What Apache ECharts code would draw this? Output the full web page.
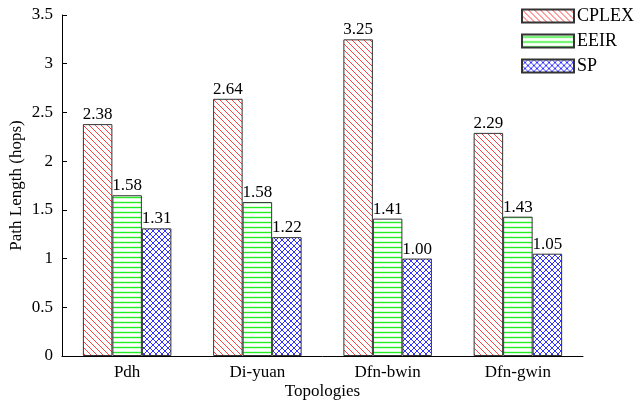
<!DOCTYPE html>
<html><head><meta charset="utf-8">
<script src="https://cdn.jsdelivr.net/npm/echarts@6/dist/echarts.min.js"></script>
<style>html,body{margin:0;padding:0;background:#fff}#c{width:637px;height:401px}</style>
</head><body><div id="c"></div>
<script>
var categories = ['Pdh', 'Di-yuan', 'Dfn-bwin', 'Dfn-gwin'];
var seriesNames = ['CPLEX', 'EEIR', 'SP'];
var cplex = [2.38, 2.64, 3.25, 2.29];
var eeir = [1.65, 1.58, 1.41, 1.43];
var sp = [1.31, 1.22, 1.00, 1.05];
var cplexLabels = ['2.38', '2.64', '3.25', '2.29'];
var eeirLabels = ['1.58', '1.58', '1.41', '1.43'];
var spLabels = ['1.31', '1.22', '1.00', '1.05'];
var yTicks = [0, 0.5, 1, 1.5, 2, 2.5, 3, 3.5];

function makePattern(kind) {
  var c = document.createElement('canvas');
  var s = kind === 'h' ? 5 : 6;
  c.width = s; c.height = s;
  var g = c.getContext('2d');
  g.fillStyle = '#fff'; g.fillRect(0, 0, s, s);
  if (kind === 'd') {
    g.strokeStyle = 'rgba(255,0,0,0.75)'; g.lineWidth = 1;
    g.beginPath(); g.moveTo(-1, -1); g.lineTo(s + 1, s + 1);
    g.moveTo(-1, s - 1); g.lineTo(1, s + 1);
    g.moveTo(s - 1, -1); g.lineTo(s + 1, 1);
    g.stroke();
  } else if (kind === 'h') {
    g.strokeStyle = '#22ee22'; g.lineWidth = 1.4;
    g.beginPath(); g.moveTo(0, 2.5); g.lineTo(s, 2.5); g.stroke();
  } else {
    g.strokeStyle = 'rgba(0,0,255,0.8)'; g.lineWidth = 1;
    g.beginPath();
    g.moveTo(0, 0); g.lineTo(s, s);
    g.moveTo(0, s); g.lineTo(s, 0);
    g.stroke();
  }
  return { image: c, repeat: 'repeat' };
}

var fontFam = '"Liberation Serif", "DejaVu Serif", serif';
function mk(name, data, labels, kind) {
  return {
    name: name, type: 'bar', data: data, barWidth: 29.5, barGap: '0%',
    itemStyle: { color: makePattern(kind), borderColor: '#333', borderWidth: 1 },
    label: {
      show: true, position: 'top', distance: 1, color: '#000',
      fontFamily: fontFam, fontSize: 17,
      formatter: function (p) { return labels[p.dataIndex]; }
    }
  };
}

var chart = echarts.init(document.getElementById('c'), null, { renderer: 'canvas' });
chart.setOption({
  animation: false,
  backgroundColor: '#fff',
  grid: { left: 62, right: 54, top: 15, bottom: 45, containLabel: false, outerBoundsMode: 'none' },
  legend: {
    left: 521, top: 7, orient: 'vertical', itemWidth: 52, itemHeight: 13, itemGap: 7,
    icon: 'rect', align: 'left', padding: 0,
    textStyle: { fontFamily: fontFam, fontSize: 18, color: '#000', padding: [0, 0, 0, -2] },
    data: seriesNames
  },
  xAxis: {
    type: 'category', data: categories,
    name: 'Topologies', nameLocation: 'middle', nameGap: 27, nameMoveOverlap: false,
    nameTextStyle: { fontFamily: fontFam, fontSize: 17, color: '#000' },
    axisLine: { lineStyle: { color: '#000', width: 1 } },
    axisTick: { show: false },
    axisLabel: { fontFamily: fontFam, fontSize: 17, color: '#000', margin: 8 }
  },
  yAxis: {
    type: 'value', min: 0, max: 3.5, interval: 0.5,
    name: 'Path Length (hops)', nameLocation: 'middle', nameGap: 37, nameRotate: 90, nameMoveOverlap: false,
    nameTextStyle: { fontFamily: fontFam, fontSize: 17, color: '#000' },
    axisLine: { show: true, lineStyle: { color: '#000', width: 1 } },
    axisTick: { show: true, inside: true, length: 5, lineStyle: { color: '#000' } },
    splitLine: { show: false },
    axisLabel: {
      fontFamily: fontFam, fontSize: 17, color: '#000', margin: 9,
      formatter: function (v) { return String(yTicks[Math.round(v / 0.5)]); }
    }
  },
  series: [
    mk('CPLEX', cplex, cplexLabels, 'd'),
    mk('EEIR', eeir, eeirLabels, 'h'),
    mk('SP', sp, spLabels, 'x')
  ]
});
</script></body></html>
